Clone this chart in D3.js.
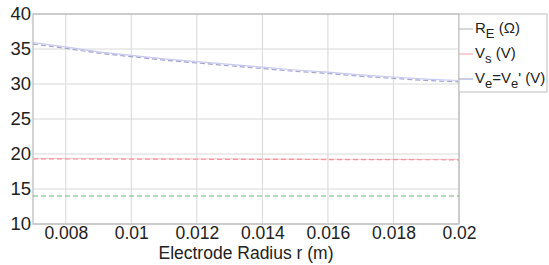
<!DOCTYPE html>
<html>
<head>
<meta charset="utf-8">
<script src="https://cdn.jsdelivr.net/npm/d3@7"></script>
<style>
  body { margin: 0; background: #fff; }
  text { font-family: "Liberation Sans", Arial, Helvetica, sans-serif; fill: #222; }
</style>
</head>
<body>
<div class="canvas"></div>
<script>

// data
var radius = [0.007, 0.008, 0.009, 0.01, 0.011, 0.012, 0.013, 0.014, 0.015, 0.016, 0.017, 0.018, 0.019, 0.02];
var reSolid = [35.9, 35.3, 34.6, 34.1, 33.6, 33.2, 32.8, 32.4, 32.0, 31.7, 31.3, 31.0, 30.7, 30.5];
var reDash  = [35.7, 35.1, 34.4, 33.9, 33.4, 33.0, 32.6, 32.2, 31.8, 31.5, 31.1, 30.8, 30.5, 30.3];
var vsSolid = [19.35, 19.34, 19.33, 19.32, 19.31, 19.3, 19.29, 19.28, 19.27, 19.26, 19.25, 19.24, 19.23, 19.22];
var vsDash  = [19.3, 19.29, 19.28, 19.27, 19.26, 19.25, 19.24, 19.23, 19.22, 19.21, 19.2, 19.19, 19.18, 19.17];
var veDash  = [14.0, 14.0, 14.0, 14.0, 14.0, 14.0, 14.0, 14.0, 14.0, 14.0, 14.0, 14.0, 14.0, 14.0];

var xTicks = [0.008, 0.01, 0.012, 0.014, 0.016, 0.018, 0.02];
var yTicks = [10, 15, 20, 25, 30, 35, 40];

var legendItems = [
	{ main: "R", sub: "E", rest: " (\u03A9)", color: "#b0b0b0" },
	{ main: "V", sub: "s", rest: " (V)", color: "#f0a0a8" },
	{ main: "V", sub: "e", rest: "=V", sub2: "e", rest2: "' (V)", color: "#9a9ac8" }
];

var svg = d3.select(".canvas")
			.append("svg")
			.attr("width", 549)
			.attr("height", 265);

var pLeft = 33, pRight = 459, pTop = 14, pBottom = 224;

var x = d3.scaleLinear().domain([0.007, 0.02]).range([pLeft, pRight]);
var y = d3.scaleLinear().domain([10, 40]).range([pBottom, pTop]);

// GRID
svg.append("g")
   .selectAll("line")
   .data(xTicks)
   .enter()
   .append("line")
   .attr("x1", function(d){ return x(d); })
   .attr("x2", function(d){ return x(d); })
   .attr("y1", pTop)
   .attr("y2", pBottom)
   .attr("stroke", "#d8d8d8")
   .attr("stroke-width", 1);

svg.append("g")
   .selectAll("line")
   .data(yTicks)
   .enter()
   .append("line")
   .attr("x1", pLeft)
   .attr("x2", pRight)
   .attr("y1", function(d){ return y(d); })
   .attr("y2", function(d){ return y(d); })
   .attr("stroke", "#d8d8d8")
   .attr("stroke-width", 1);

// FRAME
svg.append("rect")
   .attr("x", pLeft)
   .attr("y", pTop)
   .attr("width", pRight - pLeft)
   .attr("height", pBottom - pTop)
   .attr("fill", "none")
   .attr("stroke", "#b8b8b8")
   .attr("stroke-width", 1.2);

// AXES (labels only, frame is drawn above)
var xAxis = svg.append("g")
	.attr("transform", "translate(0," + pBottom + ")")
	.call(d3.axisBottom(x).tickValues(xTicks).tickSize(0).tickPadding(3)
		.tickFormat(function(d){ return String(+d.toFixed(3)); }));
xAxis.select(".domain").remove();
xAxis.selectAll("text").style("font-size", "17.5px").attr("fill", "#222");

var yAxis = svg.append("g")
	.attr("transform", "translate(" + pLeft + ",0)")
	.call(d3.axisLeft(y).tickValues(yTicks).tickSize(0).tickPadding(2));
yAxis.select(".domain").remove();
yAxis.selectAll("text").style("font-size", "18.5px").attr("fill", "#222");

svg.append("text")
   .attr("x", (pLeft + pRight) / 2)
   .attr("y", 259)
   .attr("text-anchor", "middle")
   .style("font-size", "17.5px")
   .text("Electrode Radius r (m)");

// LINES
var line = d3.line()
	.x(function(d){ return x(d[0]); })
	.y(function(d){ return y(d[1]); });

var series = [
	{ values: reSolid, color: "#c8c8f0", dash: null },
	{ values: reDash, color: "#a4a4d0", dash: "5,3" },
	{ values: vsSolid, color: "#f8c8cc", dash: null },
	{ values: vsDash, color: "#ec98a2", dash: "5,3" },
	{ values: veDash, color: "#70b870", dash: "5,3" }
];

series.forEach(function(s){
	svg.append("path")
	   .datum(radius.map(function(r, i){ return [r, s.values[i]]; }))
	   .attr("d", line)
	   .attr("fill", "none")
	   .attr("stroke", s.color)
	   .attr("stroke-width", 1.2)
	   .attr("stroke-dasharray", s.dash);
});

// LEGEND
svg.append("rect")
   .attr("x", pRight)
   .attr("y", pTop)
   .attr("width", 88)
   .attr("height", 78)
   .attr("fill", "#fff")
   .attr("stroke", "#c8c8c8")
   .attr("stroke-width", 1.2);

legendItems.forEach(function(item, i){
	var ly = 29 + i * 25;
	svg.append("line")
	   .attr("x1", pRight)
	   .attr("x2", pRight + 14)
	   .attr("y1", ly)
	   .attr("y2", ly)
	   .attr("stroke", item.color)
	   .attr("stroke-width", 1);

	var t = svg.append("text")
	   .attr("x", pRight + 16)
	   .attr("y", ly + 4)
	   .style("font-size", "15px");
	t.append("tspan").text(item.main);
	t.append("tspan").attr("dy", 5).style("font-size", "13px").text(item.sub);
	t.append("tspan").attr("dy", -5).text(item.rest);
	if (item.sub2) {
		t.append("tspan").attr("dy", 5).style("font-size", "13px").text(item.sub2);
		t.append("tspan").attr("dy", -5).text(item.rest2);
	}
});

</script>
</body>
</html>
